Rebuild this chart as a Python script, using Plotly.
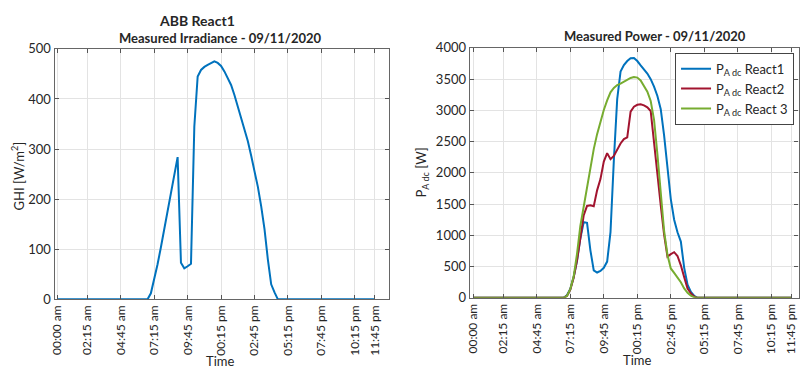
import plotly.graph_objects as go

# time in hours, 15-minute samples 00:00 .. 23:45
time_h = [i * 0.25 for i in range(96)]

ghi = [0, 0, 0, 0, 0, 0, 0, 0, 0, 0, 0, 0, 0, 0, 0, 0, 0, 0, 0, 0, 0, 0, 0, 0, 0, 0, 0,
       0, 12, 39, 70, 104, 140, 176, 212, 248, 284, 73, 62, 66, 71, 345, 445, 458, 464,
       468, 471, 475, 472, 466, 455, 442, 428, 408, 386, 362, 340, 316, 287, 258, 225,
       186, 140, 80, 30, 14, 0,
       0, 0, 0, 0, 0, 0, 0, 0, 0, 0, 0, 0, 0, 0, 0, 0, 0, 0, 0, 0, 0, 0, 0, 0, 0, 0, 0, 0, 0]

p_react1 = [0, 0, 0, 0, 0, 0, 0, 0, 0, 0, 0, 0, 0, 0, 0, 0, 0, 0, 0, 0, 0, 0, 0, 0, 0, 0, 0,
            0, 40, 140, 330, 590, 950, 1210, 1200, 760, 440, 405, 430, 480, 580, 1050, 2200,
            3180, 3620, 3725, 3790, 3835, 3840, 3790, 3720, 3660, 3590, 3500, 3380, 3230,
            3020, 2600, 2050, 1580, 1250, 1050, 900, 480, 210, 95, 30, 0,
            0, 0, 0, 0, 0, 0, 0, 0, 0, 0, 0, 0, 0, 0, 0, 0, 0, 0, 0, 0, 0, 0, 0, 0, 0, 0, 0, 0]

p_react2 = [0, 0, 0, 0, 0, 0, 0, 0, 0, 0, 0, 0, 0, 0, 0, 0, 0, 0, 0, 0, 0, 0, 0, 0, 0, 0, 0,
            0, 30, 130, 320, 600, 950, 1320, 1470, 1480, 1465, 1720, 1900, 2180, 2316, 2220,
            2270, 2380, 2470, 2540, 2570, 2980, 3060, 3090, 3098, 3080, 3050, 2990, 2450,
            1933, 1480, 1010, 660, 700, 731, 670, 520, 330, 150, 70, 20, 0,
            0, 0, 0, 0, 0, 0, 0, 0, 0, 0, 0, 0, 0, 0, 0, 0, 0, 0, 0, 0, 0, 0, 0, 0, 0, 0, 0, 0]

p_react3 = [0, 0, 0, 0, 0, 0, 0, 0, 0, 0, 0, 0, 0, 0, 0, 0, 0, 0, 0, 0, 0, 0, 0, 0, 0, 0, 0,
            0, 30, 140, 340, 700, 1150, 1450, 1800, 2080, 2380, 2620, 2830, 3006, 3160, 3290,
            3360, 3405, 3430, 3460, 3495, 3520, 3534, 3525, 3480, 3400, 3300, 3150, 2850,
            2300, 1650, 1070, 690, 470, 400, 330, 250, 150, 80, 35, 8, 0,
            0, 0, 0, 0, 0, 0, 0, 0, 0, 0, 0, 0, 0, 0, 0, 0, 0, 0, 0, 0, 0, 0, 0, 0, 0, 0, 0, 0]

tick_vals = [0, 2.25, 4.75, 7.25, 9.75, 12.25, 14.75, 17.25, 19.75, 22.25, 23.75]
tick_text = ["00:00 am", "02:15 am", "04:45 am", "07:15 am", "09:45 am", "00:15 pm",
             "02:45 pm", "05:15 pm", "07:45 pm", "10:15 pm", "11:45 pm"]

series_names = ["P<sub>A dc</sub> React1", "P<sub>A dc</sub> React2", "P<sub>A dc</sub> React 3"]
series_colors = ["#0072BD", "#A2142F", "#77AC30"]

W, H = 800, 376
FONT = "Lato"
TXT = "#262626"


def px(x):
    return x / W


def py(y):
    return 1 - y / H


fig = go.Figure()
fig.add_trace(go.Scatter(x=time_h, y=ghi, mode="lines", line=dict(color="#0072BD", width=2),
                         showlegend=False, xaxis="x", yaxis="y"))
for name, vals, col in zip(series_names, [p_react1, p_react2, p_react3], series_colors):
    fig.add_trace(go.Scatter(x=time_h, y=vals, mode="lines", name=name,
                             line=dict(color=col, width=2), xaxis="x2", yaxis="y2"))

axis_common = dict(showgrid=True, gridcolor="#e3e3e3", gridwidth=1, zeroline=False,
                   showline=True, linecolor="#666666", linewidth=1.3, mirror="ticks",
                   ticks="inside", ticklen=4, tickcolor="#555555")
xtickfont = dict(family=FONT, size=12, color=TXT)
ytickfont = dict(family=FONT, size=13, color=TXT)

fig.update_layout(
    width=W, height=H, margin=dict(l=0, r=0, t=0, b=0),
    paper_bgcolor="white", plot_bgcolor="white",
    xaxis=dict(domain=[px(50), px(387)], range=[-0.2, 24.82], anchor="y",
               tickmode="array", tickvals=tick_vals, ticktext=tick_text, tickangle=-90,
               tickfont=xtickfont, **axis_common),
    yaxis=dict(domain=[py(304.3), py(42.7)], range=[0, 500], anchor="x",
               tickmode="array", tickvals=[0, 100, 200, 300, 400, 500],
               tickfont=ytickfont, **axis_common),
    xaxis2=dict(domain=[px(468.3), px(799.5)], range=[-0.25, 24.28], anchor="y2",
                tickmode="array", tickvals=tick_vals, ticktext=tick_text, tickangle=-90,
                tickfont=xtickfont, **axis_common),
    yaxis2=dict(domain=[py(302.7), py(41.7)], range=[0, 4000], anchor="x2",
                tickmode="array", tickvals=[0, 500, 1000, 1500, 2000, 2500, 3000, 3500, 4000],
                tickfont=ytickfont, **axis_common),
    legend=dict(x=px(795), y=py(46.7), xanchor="right", yanchor="top",
                bgcolor="white", bordercolor="#444444", borderwidth=1, itemwidth=30,
                font=dict(family=FONT, size=13, color=TXT), tracegroupgap=0),
    font=dict(family=FONT, color=TXT),
)

annotations = [
    dict(text="<b>ABB React1</b>", x=px(193), y=py(13), size=14, angle=0),
    dict(text="<b>Measured Irradiance - 09/11/2020</b>", x=px(217.5), y=py(31), size=13, angle=0),
    dict(text="<b>Measured Power - 09/11/2020</b>", x=px(654.7), y=py(29), size=13, angle=0),
    dict(text="Time", x=px(217), y=py(369), size=13, angle=0),
    dict(text="Time", x=px(637), y=py(368), size=13, angle=0),
    dict(text="GHI [W/m<sup>2</sup>]", x=px(13), y=py(175), size=13, angle=-90),
    dict(text="P<sub>A dc</sub> [W]", x=px(420), y=py(172), size=13, angle=-90),
]
for a in annotations:
    fig.add_annotation(text=a["text"], x=a["x"], y=a["y"], xref="paper", yref="paper",
                       xanchor="center", yanchor="middle", showarrow=False,
                       textangle=a["angle"], font=dict(family=FONT, size=a["size"], color=TXT))

fig.write_html("out.html")
